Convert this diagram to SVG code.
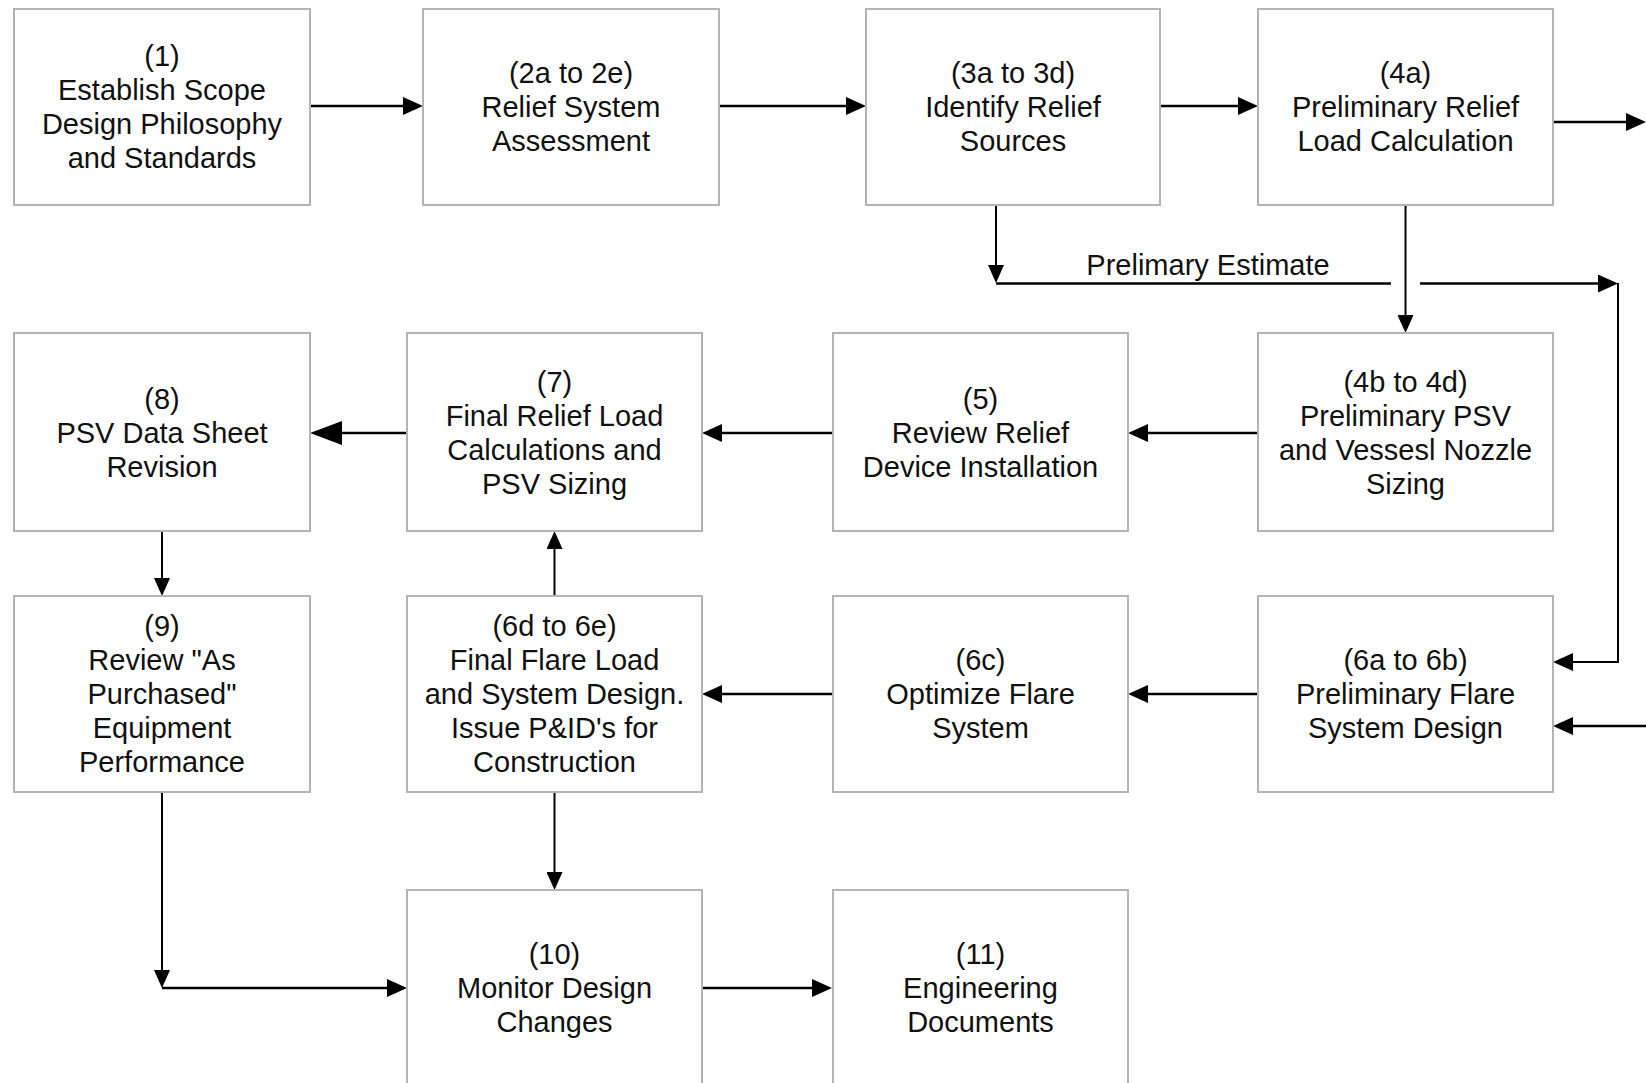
<svg xmlns="http://www.w3.org/2000/svg" width="1646" height="1083" viewBox="0 0 1646 1083">
<style>
.box{fill:#fff;stroke:#b4b4b4;stroke-width:2}
text{font-family:"Liberation Sans",Arial,sans-serif;font-size:29px;fill:#111;text-anchor:middle}
.c{fill:none;stroke:#000;stroke-width:2.5}
.t{fill:none;stroke:#000;stroke-width:2}
</style>
<defs>
<marker id="ah" markerUnits="userSpaceOnUse" viewBox="0 0 20 18" refX="10" refY="9" markerWidth="20" markerHeight="18" orient="auto"><path d="M0,0 L20,9 L0,18 z" fill="#000"/></marker>
<marker id="ahS" markerUnits="userSpaceOnUse" viewBox="0 0 18 16" refX="9" refY="8" markerWidth="18" markerHeight="16" orient="auto"><path d="M0,0 L18,8 L0,16 z" fill="#000"/></marker>
<marker id="ahL" markerUnits="userSpaceOnUse" viewBox="0 0 32 24" refX="16" refY="12" markerWidth="32" markerHeight="24" orient="auto"><path d="M0,0 L32,12 L0,24 z" fill="#000"/></marker>
</defs>
<rect width="1646" height="1083" fill="#fff"/>
<g id="connectors">
<path class="c" d="M310 106 H413" marker-end="url(#ah)"/>
<path class="c" d="M719 106 H856" marker-end="url(#ah)"/>
<path class="c" d="M1160 106 H1248" marker-end="url(#ah)"/>
<path class="c" d="M1553 122 H1636" marker-end="url(#ah)"/>
<path class="t" d="M996 205 V274" marker-end="url(#ahS)"/>
<path class="c" d="M996 283.5 H1391"/>
<path class="c" d="M1420 283.5 H1608" marker-end="url(#ah)"/>
<path class="t" d="M1618 283 V662 H1563" marker-end="url(#ah)"/>
<path class="t" d="M1405.5 205 V324" marker-end="url(#ahS)"/>
<path class="c" d="M1646 726 H1563" marker-end="url(#ah)"/>
<path class="c" d="M1258 433 H1138" marker-end="url(#ah)"/>
<path class="c" d="M833 433 H712" marker-end="url(#ah)"/>
<path class="c" d="M407 433 H326" marker-end="url(#ahL)"/>
<path class="t" d="M162 531 V587" marker-end="url(#ahS)"/>
<path class="t" d="M554.5 596 V540" marker-end="url(#ahS)"/>
<path class="c" d="M1258 694 H1138" marker-end="url(#ah)"/>
<path class="c" d="M833 694 H712" marker-end="url(#ah)"/>
<path class="t" d="M162 792 V979" marker-end="url(#ahS)"/>
<path class="c" d="M162 988 H397" marker-end="url(#ah)"/>
<path class="t" d="M554.5 792 V881" marker-end="url(#ahS)"/>
<path class="c" d="M703 988 H822" marker-end="url(#ah)"/>
<text x="1208" y="275">Prelimary Estimate</text>
</g>
<g id="n1"><rect class="box" x="14" y="9" width="296" height="196"/>
<text x="162" y="66">(1)</text><text x="162" y="100">Establish Scope</text><text x="162" y="134">Design Philosophy</text><text x="162" y="168">and Standards</text></g>
<g id="n2"><rect class="box" x="423" y="9" width="296" height="196"/>
<text x="571" y="83">(2a to 2e)</text><text x="571" y="117">Relief System</text><text x="571" y="151">Assessment</text></g>
<g id="n3"><rect class="box" x="866" y="9" width="294" height="196"/>
<text x="1013" y="83">(3a to 3d)</text><text x="1013" y="117">Identify Relief</text><text x="1013" y="151">Sources</text></g>
<g id="n4a"><rect class="box" x="1258" y="9" width="295" height="196"/>
<text x="1405.5" y="83">(4a)</text><text x="1405.5" y="117">Preliminary Relief</text><text x="1405.5" y="151">Load Calculation</text></g>
<g id="n8"><rect class="box" x="14" y="333" width="296" height="198"/>
<text x="162" y="409">(8)</text><text x="162" y="443">PSV Data Sheet</text><text x="162" y="477">Revision</text></g>
<g id="n7"><rect class="box" x="407" y="333" width="295" height="198"/>
<text x="554.5" y="392">(7)</text><text x="554.5" y="426">Final Relief Load</text><text x="554.5" y="460">Calculations and</text><text x="554.5" y="494">PSV Sizing</text></g>
<g id="n5"><rect class="box" x="833" y="333" width="295" height="198"/>
<text x="980.5" y="409">(5)</text><text x="980.5" y="443">Review Relief</text><text x="980.5" y="477">Device Installation</text></g>
<g id="n4b"><rect class="box" x="1258" y="333" width="295" height="198"/>
<text x="1405.5" y="392">(4b to 4d)</text><text x="1405.5" y="426">Preliminary PSV</text><text x="1405.5" y="460">and Vessesl Nozzle</text><text x="1405.5" y="494">Sizing</text></g>
<g id="n9"><rect class="box" x="14" y="596" width="296" height="196"/>
<text x="162" y="636">(9)</text><text x="162" y="670">Review "As</text><text x="162" y="704">Purchased"</text><text x="162" y="738">Equipment</text><text x="162" y="772">Performance</text></g>
<g id="n6d"><rect class="box" x="407" y="596" width="295" height="196"/>
<text x="554.5" y="636">(6d to 6e)</text><text x="554.5" y="670">Final Flare Load</text><text x="554.5" y="704">and System Design.</text><text x="554.5" y="738">Issue P&amp;ID's for</text><text x="554.5" y="772">Construction</text></g>
<g id="n6c"><rect class="box" x="833" y="596" width="295" height="196"/>
<text x="980.5" y="670">(6c)</text><text x="980.5" y="704">Optimize Flare</text><text x="980.5" y="738">System</text></g>
<g id="n6a"><rect class="box" x="1258" y="596" width="295" height="196"/>
<text x="1405.5" y="670">(6a to 6b)</text><text x="1405.5" y="704">Preliminary Flare</text><text x="1405.5" y="738">System Design</text></g>
<g id="n10"><rect class="box" x="407" y="890" width="295" height="205"/>
<text x="554.5" y="964">(10)</text><text x="554.5" y="998">Monitor Design</text><text x="554.5" y="1032">Changes</text></g>
<g id="n11"><rect class="box" x="833" y="890" width="295" height="205"/>
<text x="980.5" y="964">(11)</text><text x="980.5" y="998">Engineering</text><text x="980.5" y="1032">Documents</text></g>
</svg>
